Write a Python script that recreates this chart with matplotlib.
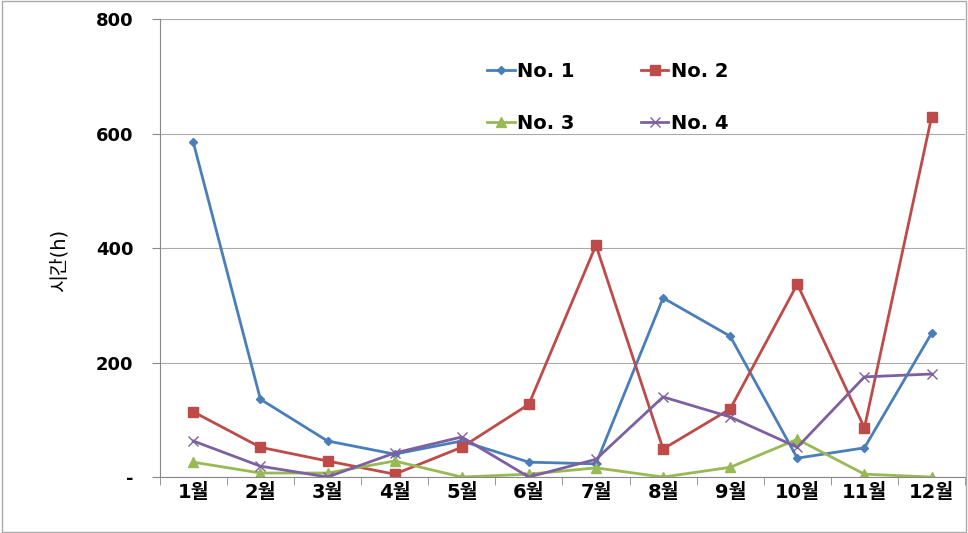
import matplotlib
matplotlib.use("Agg")
import matplotlib.pyplot as plt
import numpy as np

plt.rcParams['font.family'] = ['DejaVu Sans', 'Noto Sans CJK KR']

months = ["1월", "2월", "3월", "4월", "5월", "6월", "7월", "8월", "9월", "10월", "11월", "12월"]
no1 = [585, 136, 63, 40, 63, 26, 23, 313, 246, 33, 51, 251]
no2 = [114, 52, 28, 5, 52, 127, 405, 49, 119, 337, 86, 629]
no3 = [26, 7, 7, 28, 0, 5, 16, 0, 17, 66, 5, 0]
no4 = [63, 19, 0, 42, 70, 0, 31, 140, 105, 52, 175, 180]
y_ticks = [0, 200, 400, 600, 800]
y_labels = ["-", "200", "400", "600", "800"]

fig = plt.figure(figsize=(9.68, 5.33), dpi=100)
ax = fig.add_axes([0.165, 0.105, 0.832, 0.859])

x = np.arange(len(months))
l1, = ax.plot(x, no1, color="#4A7EBB", marker="D", markersize=4, lw=2, label="No. 1")
l2, = ax.plot(x, no2, color="#BE4B48", marker="s", markersize=7, lw=2, label="No. 2")
l3, = ax.plot(x, no3, color="#98B954", marker="^", markersize=7, lw=2, label="No. 3")
l4, = ax.plot(x, no4, color="#7D60A0", marker="x", markersize=7, mew=1, lw=2, label="No. 4")

ax.set_xlim(-0.5, len(months) - 0.5)
ax.set_ylim(0, 800)
ax.set_yticks(y_ticks)
ax.set_yticklabels(y_labels, fontsize=13, fontweight="bold")
ax.set_xticks(x)
ax.set_xticklabels(months, fontsize=14, fontweight="bold")
ax.set_xticks(np.arange(-0.5, len(months)), minor=True)
ax.tick_params(axis="x", which="major", length=0, pad=4)
ax.tick_params(axis="x", which="minor", length=6, color="#888888")
ax.tick_params(axis="y", length=6, color="#888888", pad=13)
ax.grid(axis="y", color="#AAAAAA", lw=0.8)
ax.set_axisbelow(True)
for s in ["top", "right"]:
    ax.spines[s].set_visible(False)
for s in ["left", "bottom"]:
    ax.spines[s].set_color("#888888")

ax.set_ylabel("시간(h)", fontsize=14)
ax.yaxis.set_label_coords(-0.113, 0.474)

# row-wise order: No.1 No.2 / No.3 No.4
ax.legend([l1, l3, l2, l4], ["No. 1", "No. 3", "No. 2", "No. 4"],
          ncol=2, frameon=False, loc="upper left", bbox_to_anchor=(0.385, 0.945),
          prop={"weight": "bold", "size": 14}, handlelength=1.4, handletextpad=0.15,
          columnspacing=3.4, labelspacing=1.7)

fig.patches.append(plt.Rectangle((0.002, 0.002), 0.996, 0.996, transform=fig.transFigure,
                                 fill=False, edgecolor="#AAAAAA", lw=1))

fig.savefig("out.png", dpi=100)
